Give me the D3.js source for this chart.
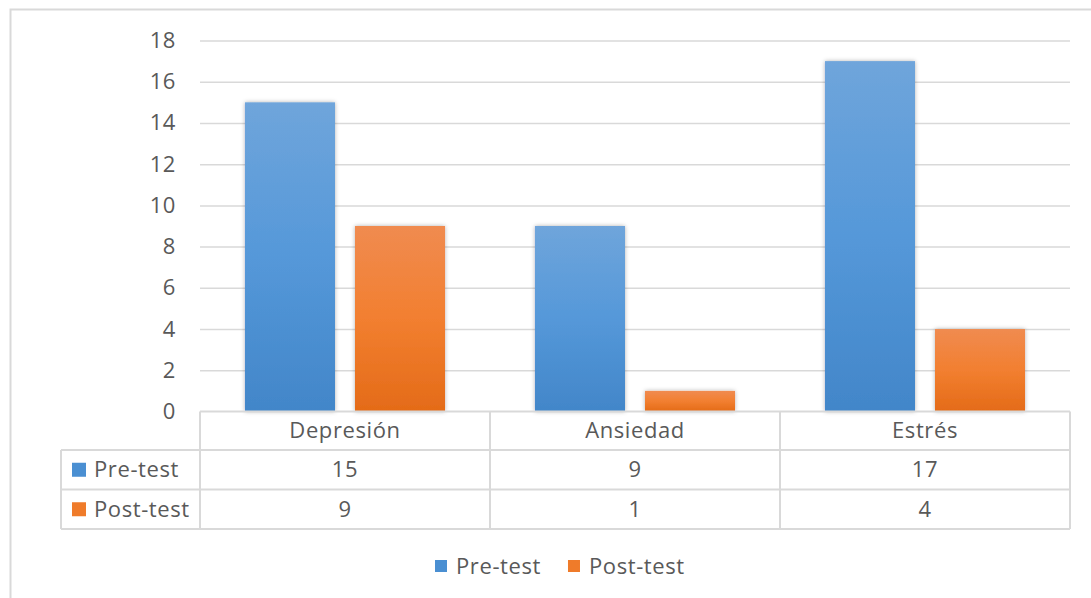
<!DOCTYPE html>
<html>
<head>
<meta charset="utf-8">
<script src="https://cdn.jsdelivr.net/npm/d3@7"></script>
<style>
  html, body { margin: 0; padding: 0; background: #fff; }
  svg { display: block; }
  text { font-family: "Open Sans", "Noto Sans", sans-serif; fill: #595959; letter-spacing: 0.6px; }
</style>
</head>
<body>
<svg id="chart" width="1091" height="598"></svg>
<script>
// Puntajes por dimensión, antes y después de la intervención
const categories = ["Depresión", "Ansiedad", "Estrés"];
const seriesNames = ["Pre-test", "Post-test"];
const preTest = [15, 9, 17];
const postTest = [9, 1, 4];
const yTicks = [0, 2, 4, 6, 8, 10, 12, 14, 16, 18];

const series = [
  { name: seriesNames[0], values: preTest, top: "#6fa5db", bottom: "#4286c9", key: "#4a8fd2" },
  { name: seriesNames[1], values: postTest, top: "#f08b50", bottom: "#e46b18", key: "#ef7b2a" }
];

const FS = 22;
const svg = d3.select("#chart");
const grid = "#d9d9d9";

// Marco exterior del gráfico
svg.append("path")
  .attr("d", "M10.5,598 V9.5 H1091")
  .attr("fill", "none").attr("stroke", "#d9d9d9").attr("stroke-width", 2);

const plotLeft = 200, plotRight = 1070, plotTop = 40.5, plotBottom = 411.5;

const x = d3.scaleBand().domain(categories).range([plotLeft, plotRight]).paddingInner(0).paddingOuter(0);
const xInner = d3.scaleBand().domain(seriesNames).range([0, x.bandwidth()]).paddingInner(0.1818).paddingOuter(0.409);
const y = d3.scaleLinear().domain([0, 18]).range([plotBottom, plotTop]);

const defs = svg.append("defs");
series.forEach((s, i) => {
  const g = defs.append("linearGradient").attr("id", "grad" + i)
    .attr("x1", 0).attr("y1", 0).attr("x2", 0).attr("y2", 1);
  g.append("stop").attr("offset", "0%").attr("stop-color", s.top);
  g.append("stop").attr("offset", "50%").attr("stop-color", i === 0 ? "#5598d9" : "#f27f30");
  g.append("stop").attr("offset", "100%").attr("stop-color", s.bottom);
});
const shadow = defs.append("filter").attr("id", "shadow")
  .attr("x", "-20%").attr("y", "-20%").attr("width", "140%").attr("height", "140%");
shadow.append("feDropShadow").attr("dx", 0).attr("dy", 0).attr("stdDeviation", 2.2)
  .attr("flood-color", "#000").attr("flood-opacity", 0.3);

// Líneas de cuadrícula y eje Y
const yAxis = d3.axisLeft(y).tickValues(yTicks).tickSize(-(plotRight - plotLeft)).tickPadding(24);
const gy = svg.append("g").attr("transform", `translate(${plotLeft},0)`).call(yAxis);
gy.select(".domain").remove();
gy.selectAll(".tick line").attr("stroke", grid).attr("stroke-width", 1.5)
  .filter(d => d === 0).remove();
gy.selectAll(".tick text").attr("font-size", FS).attr("fill", "#595959")
  .style("font-family", "'Open Sans', sans-serif");

// Barras
series.forEach((s, i) => {
  svg.append("g").selectAll("rect").data(categories).join("rect")
    .attr("x", d => x(d) + xInner(s.name))
    .attr("width", xInner.bandwidth())
    .attr("y", (d, j) => y(s.values[j]))
    .attr("height", (d, j) => y(0) - y(s.values[j]))
    .attr("fill", `url(#grad${i})`)
    .attr("filter", "url(#shadow)");
});

// Tabla de datos bajo el eje
const tableLeft = 61, rowTops = [411.5, 450, 489.5, 529];
const tbl = svg.append("g").attr("fill", "none").attr("stroke", grid).attr("stroke-width", 2);
tbl.append("line").attr("x1", plotLeft).attr("x2", plotRight).attr("y1", rowTops[0]).attr("y2", rowTops[0]);
[1, 2, 3].forEach(r => tbl.append("line").attr("x1", tableLeft).attr("x2", plotRight)
  .attr("y1", rowTops[r]).attr("y2", rowTops[r]));
tbl.append("line").attr("x1", tableLeft).attr("x2", tableLeft).attr("y1", rowTops[1]).attr("y2", rowTops[3]);
[plotLeft, ...categories.map(c => x(c) + x.bandwidth())].forEach(xx =>
  tbl.append("line").attr("x1", xx).attr("x2", xx).attr("y1", rowTops[0]).attr("y2", rowTops[3]));

const rowMid = r => (rowTops[r] + rowTops[r + 1]) / 2;
svg.append("g").selectAll("text").data(categories).join("text")
  .attr("x", d => x(d) + x.bandwidth() / 2).attr("y", rowMid(0))
  .attr("dy", "0.35em").attr("text-anchor", "middle").attr("font-size", FS).text(d => d);

series.forEach((s, i) => {
  const r = i + 1;
  svg.append("rect").attr("x", 72).attr("y", rowMid(r) - 7).attr("width", 14).attr("height", 14).attr("fill", s.key);
  svg.append("text").attr("x", 94).attr("y", rowMid(r)).attr("dy", "0.35em")
    .attr("font-size", FS).text(s.name);
  svg.append("g").selectAll("text").data(categories).join("text")
    .attr("x", d => x(d) + x.bandwidth() / 2).attr("y", rowMid(r))
    .attr("dy", "0.35em").attr("text-anchor", "middle").attr("font-size", FS)
    .text((d, j) => s.values[j]);
});

// Leyenda
const legend = svg.append("g").attr("transform", "translate(435,566)");
let lx = 0;
series.forEach(s => {
  const item = legend.append("g").attr("transform", `translate(${lx},0)`);
  item.append("rect").attr("x", 0).attr("y", -6).attr("width", 12).attr("height", 12).attr("fill", s.key);
  const t = item.append("text").attr("x", 21).attr("dy", "0.35em").attr("font-size", FS).text(s.name);
  lx += 21 + t.node().getComputedTextLength() + 27;
});
</script>
</body>
</html>
